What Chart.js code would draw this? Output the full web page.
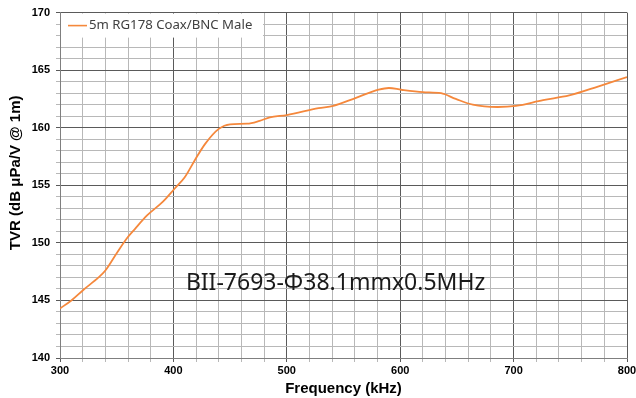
<!DOCTYPE html>
<html>
<head>
<meta charset="utf-8">
<script src="https://cdn.jsdelivr.net/npm/chart.js@4.4.1/dist/chart.umd.min.js"></script>
<style>
  html, body { margin: 0; padding: 0; background: #fff; }
  #wrap { width: 636px; height: 398px; position: relative; }
</style>
</head>
<body>
<div id="wrap"><canvas id="tvrChart"></canvas></div>
<script>
// datos
const freqKHz = [300, 310, 321, 334, 340, 350, 359, 366, 377, 391, 401, 410, 419, 428, 440, 450, 465, 476, 485, 500, 528, 541, 561, 581, 590, 601, 620, 636, 649, 664, 686, 702, 726, 749, 775, 800];
const tvrValues = [144.3, 145.0, 145.95, 147.0, 147.6, 149.1, 150.4, 151.2, 152.4, 153.6, 154.7, 155.7, 157.2, 158.6, 159.9, 160.3, 160.35, 160.6, 160.9, 161.1, 161.7, 161.9, 162.6, 163.3, 163.45, 163.3, 163.1, 163.0, 162.5, 162.0, 161.8, 161.9, 162.4, 162.8, 163.6, 164.4];
const seriesLabel = "5m RG178 Coax/BNC Male";
const xMajorTicks = [300, 400, 500, 600, 700, 800];
const yMajorTicks = [140, 145, 150, 155, 160, 165, 170];
const annotationText = "BII-7693-Φ38.1mmx0.5MHz";

const lineColor = "#f5883c";
const majorGrid = "#5a5a5a";
const minorGrid = "#b8b8b8";

// leyenda y texto dentro del area
const overlayPlugin = {
  id: "overlay",
  afterDatasetsDraw(chart) {
    const { ctx, chartArea, scales } = chart;
    ctx.save();
    // cuadro de la leyenda
    const bx = chartArea.left + 1, by = chartArea.top + 1;
    ctx.fillStyle = "#ffffff";
    ctx.fillRect(bx, by, 202, 24);
    ctx.strokeStyle = lineColor;
    ctx.lineWidth = 1.6;
    ctx.beginPath();
    ctx.moveTo(bx + 7, by + 12);
    ctx.lineTo(bx + 26, by + 12);
    ctx.stroke();
    ctx.fillStyle = "#404040";
    ctx.font = "13.2px 'Noto Sans'";
    ctx.textBaseline = "middle";
    ctx.textAlign = "left";
    ctx.fillText(seriesLabel, bx + 28, by + 12);

    // etiqueta del transductor
    const tx = scales.x.getPixelForValue(543);
    const ty = scales.y.getPixelForValue(146.5);
    ctx.font = "23px 'Noto Sans'";
    ctx.textAlign = "center";
    ctx.fillStyle = "#1a1a1a";
    ctx.fillText(annotationText, tx, ty);
    ctx.restore();
  }
};

const ctx = document.getElementById("tvrChart").getContext("2d");
new Chart(ctx, {
  type: "line",
  data: {
    datasets: [{
      label: seriesLabel,
      data: freqKHz.map((f, i) => ({ x: f, y: tvrValues[i] })),
      borderColor: lineColor,
      borderWidth: 1.8,
      pointRadius: 0,
      cubicInterpolationMode: "monotone",
      fill: false
    }]
  },
  options: {
    responsive: true,
    maintainAspectRatio: false,
    animation: false,
    layout: { padding: { top: 12, right: 0, bottom: 0, left: 0 } },
    plugins: {
      legend: { display: false },
      tooltip: { enabled: false }
    },
    scales: {
      x: {
        type: "linear",
        min: 300,
        max: 800,
        afterFit: (scale) => {
          scale.height = 40;
          scale.paddingRight = 9;
        },
        afterBuildTicks: (scale) => {
          const t = [];
          for (let v = 300; v <= 800; v += 20) t.push({ value: v });
          scale.ticks = t;
        },
        ticks: {
          autoSkip: false,
          maxRotation: 0,
          padding: 2,
          color: "#000",
          font: { family: "'Liberation Sans', Arial", size: 11, weight: "bold" },
          callback: (v) => xMajorTicks.includes(v) ? String(v) : ""
        },
        grid: {
          color: (c) => xMajorTicks.includes(c.tick && c.tick.value) ? majorGrid : minorGrid,
          tickLength: 4,
          lineWidth: 1
        },
        border: { display: true, color: "#7f7f7f" },
        title: {
          display: true,
          text: "Frequency (kHz)",
          color: "#000",
          font: { family: "'Liberation Sans', Arial", size: 15, weight: "bold" },
          padding: { top: 0, bottom: 0 }
        }
      },
      y: {
        min: 140,
        max: 170,
        afterFit: (scale) => { scale.width = 60; },
        afterBuildTicks: (scale) => {
          const t = [];
          for (let v = 140; v <= 170; v += 1) t.push({ value: v });
          scale.ticks = t;
        },
        ticks: {
          autoSkip: false,
          padding: 6,
          color: "#000",
          font: { family: "'Liberation Sans', Arial", size: 11, weight: "bold" },
          callback: (v) => yMajorTicks.includes(v) ? String(v) : ""
        },
        grid: {
          color: (c) => yMajorTicks.includes(c.tick && c.tick.value) ? majorGrid : minorGrid,
          tickLength: 4,
          lineWidth: 1
        },
        border: { display: true, color: "#7f7f7f" },
        title: {
          display: true,
          // espacios al inicio para subir el texto como en el original
          text: "      TVR (dB μPa/V @ 1m)",
          color: "#000",
          font: { family: "'Liberation Sans', Arial", size: 15, weight: "bold" },
          padding: { top: 7, bottom: 0 }
        }
      }
    }
  },
  plugins: [overlayPlugin]
});
</script>
</body>
</html>
